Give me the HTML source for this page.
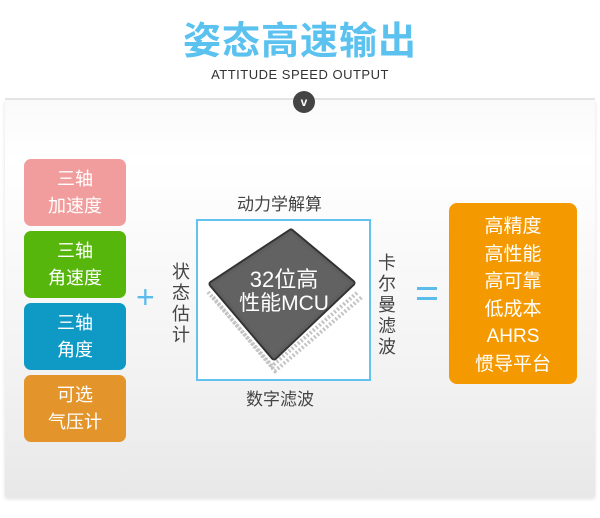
<!DOCTYPE html>
<html><head><meta charset="utf-8"><style>
body{margin:0;width:600px;height:518px;background:#fff;position:relative;overflow:hidden;font-family:"Liberation Sans","Noto Sans CJK SC",sans-serif}
.panel{position:absolute;left:5px;top:100px;width:590px;height:397px;background:linear-gradient(#fafafa,#ffffff 15%,#f2f2f2 70%,#e8e8e8);box-shadow:0 2px 4px rgba(0,0,0,.12)}
.topsh{position:absolute;left:5px;top:98px;width:590px;height:14px;background:linear-gradient(#e4e4e4,rgba(255,255,255,0))}
.title{position:absolute;top:18px;left:0;width:600px;text-align:center;color:#5bc2f0;font-size:38px;font-weight:bold;letter-spacing:1px;line-height:48px}
.sub{position:absolute;top:67px;left:0;width:600px;text-align:center;color:#333;font-size:13px;letter-spacing:.5px}
.v{position:absolute;left:293px;top:91px;width:22px;height:22px;border-radius:50%;background:#444;color:#fff;font-size:12px;text-align:center;line-height:22px;font-weight:bold}
.b{position:absolute;left:24px;width:102px;height:67px;border-radius:7px;color:#fff;font-size:18px;text-align:center;line-height:27px;padding-top:7px;box-sizing:border-box}
.vt{position:absolute;color:#444;font-size:18px;line-height:21px;width:20px;text-align:center}
.lbl{position:absolute;color:#444;font-size:17px}
</style></head><body>
<div class="topsh"></div>
<div class="panel"></div>
<div class="title">姿态高速输出</div>
<div class="sub">ATTITUDE SPEED OUTPUT</div>
<div class="v">v</div>
<div class="b" style="top:159px;background:#f29d9d">三轴<br>加速度</div>
<div class="b" style="top:231px;background:#56b60c">三轴<br>角速度</div>
<div class="b" style="top:303px;background:#0f9ac6">三轴<br>角度</div>
<div class="b" style="top:375px;background:#e3952b">可选<br>气压计</div>
<div style="position:absolute;left:136px;top:281px;color:#5bbcec;font-size:32px;line-height:32px">+</div>
<div class="vt" style="left:171px;top:262px">状态估计</div>
<div class="lbl" style="left:237px;top:190px">动力学解算</div>
<div class="lbl" style="left:246px;top:385px">数字滤波</div>
<div class="vt" style="left:377px;top:253px">卡尔曼滤波</div>
<div style="position:absolute;left:196px;top:219px;width:171px;height:158px;border:2px solid #62c3ef;background:#fff"></div>
<svg style="position:absolute;left:0;top:0" width="600" height="518">
<g stroke="#c4c4c4" stroke-width="4" stroke-dasharray="2 2" fill="none">
<polyline points="208,292 272,366 358,292"/>
<polyline points="213,297 275,371 362,297"/>
</g>
<polygon points="212,284 291,232 352,283 274,357" fill="#5e5e5e" stroke="#333" stroke-width="7" stroke-linejoin="round"/>
<polygon points="212,284 291,232 352,283 274,357" fill="#626262" stroke="#5e5e5e" stroke-width="3" stroke-linejoin="round"/>
<text x="284" y="287" fill="#fff" font-size="22" text-anchor="middle" font-family="Liberation Sans,Noto Sans CJK SC,sans-serif">32位高</text>
<text x="284" y="310" fill="#fff" font-size="21" text-anchor="middle" font-family="Liberation Sans,Noto Sans CJK SC,sans-serif">性能MCU</text>
</svg>
<div style="position:absolute;left:417px;top:287px;width:20px;height:3px;background:#5bbcec"></div>
<div style="position:absolute;left:417px;top:297px;width:20px;height:3px;background:#5bbcec"></div>
<div style="position:absolute;left:449px;top:203px;width:128px;height:181px;border-radius:8px;background:#f49a00;color:#fff;font-size:19px;line-height:27.5px;text-align:center;padding-top:10px;box-sizing:border-box">高精度<br>高性能<br>高可靠<br>低成本<br>AHRS<br>惯导平台</div>
</body></html>
